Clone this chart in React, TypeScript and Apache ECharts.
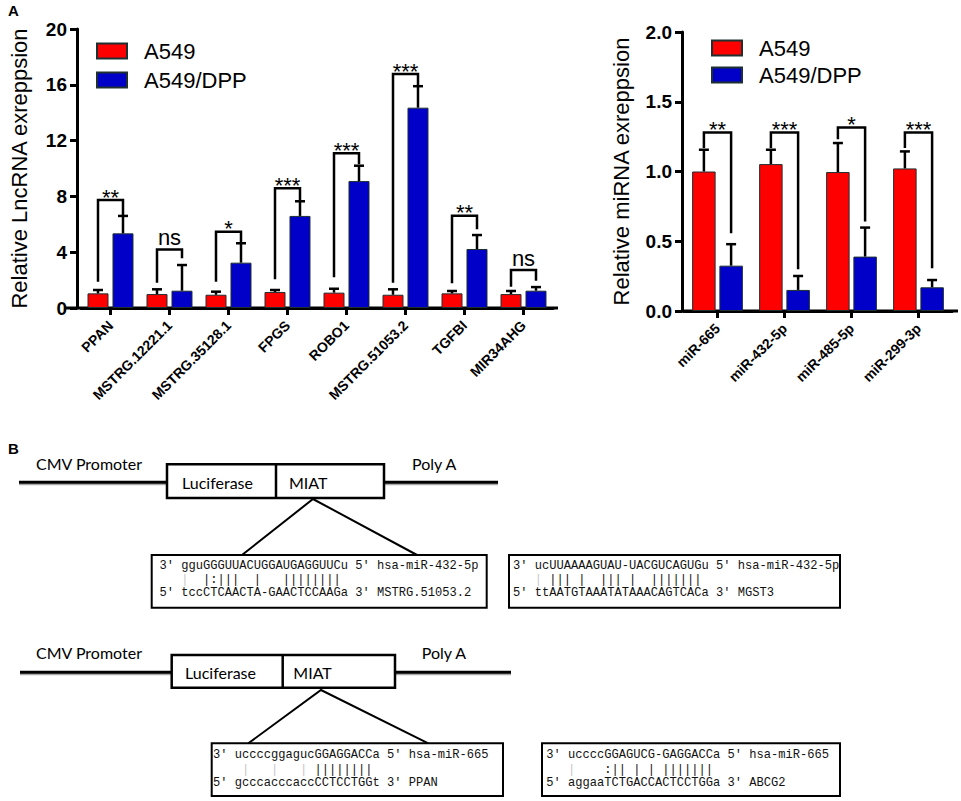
import React, { useEffect, useRef } from 'react';
import * as echarts from 'echarts';

// ---------- data ----------
const lncCategories = ['PPAN', 'MSTRG.12221.1', 'MSTRG.35128.1', 'FPGS', 'ROBO1', 'MSTRG.51053.2', 'TGFBI', 'MIR34AHG'];
const lncA549 = [1.05, 1.0, 0.95, 1.15, 1.1, 0.95, 1.05, 1.0];
const lncA549Err = [0.24, 0.34, 0.22, 0.14, 0.28, 0.39, 0.17, 0.22];
const lncDPP = [5.35, 1.24, 3.25, 6.6, 9.1, 14.36, 4.23, 1.24];
const lncDPPErr = [1.25, 1.84, 1.39, 1.05, 1.1, 1.54, 1.0, 0.26];
const lncSig = ['**', 'ns', '*', '***', '***', '***', '**', 'ns'];
const lncBracketTop = [7.74, 4.2, 5.47, 8.58, 11.09, 16.77, 6.62, 2.72];
const lncBracketLeft = [1.88, 1.81, 1.88, 2.06, 2.2, 1.81, 1.77, 1.53];
const lncBracketRight = [6.67, 3.56, 4.68, 7.74, 10.3, 15.99, 5.65, 1.96];
const lncTicks = [0, 4, 8, 12, 16, 20];

const mirCategories = ['miR-665', 'miR-432-5p', 'miR-485-5p', 'miR-299-3p'];
const mirA549 = [1.0, 1.053, 0.996, 1.022];
const mirA549Err = [0.156, 0.103, 0.208, 0.122];
const mirDPP = [0.325, 0.151, 0.39, 0.17];
const mirDPPErr = [0.154, 0.1, 0.208, 0.052];
const mirSig = ['**', '***', '*', '***'];
const mirBracketTop = [1.28, 1.28, 1.316, 1.28];
const mirBracketLeft = [1.168, 1.168, 1.232, 1.168];
const mirBracketRight = [0.558, 0.3, 0.641, 0.306];
const mirTicks = [0, 0.5, 1.0, 1.5, 2.0];

const seriesNames = ['A549', 'A549/DPP'];

// panel B texts
const seqBox1 = ["3' gguGGGUUACUGGAUGAGGUUCu 5' hsa-miR-432-5p", '   ¦  |:|||  |   ||||||||', "5' tccCTCAACTA-GAACTCCAAGa 3' MSTRG.51053.2"];
const seqBox2 = ["3' ucUUAAAAGUAU-UACGUCAGUGu 5' hsa-miR-432-5p", '   ¦ ||| |  ||| |  |||||||', "5' ttAATGTAAATATAAACAGTCACa 3' MGST3"];
const seqBox3 = ["3' uccccggagucGGAGGACCa 5' hsa-miR-665", '    ¦   ¦   ¦ ||||||||', "5' gcccacccaccCCTCCTGGt 3' PPAN"];
const seqBox4 = ["3' uccccGGAGUCG-GAGGACCa 5' hsa-miR-665", '   ¦    :|| | | |||||||', "5' aggaaTCTGACCACTCCTGGa 3' ABCG2"];

const SANS = '"Liberation Sans", Arial, Helvetica, sans-serif';
const MONO = '"Liberation Mono", "Courier New", monospace';
const CAL = 'Lato, "Open Sans", sans-serif';

const RED = '#FF0000';
const BLUE = '#0000C8';
const BORDER = '#1f3030';

function errorBars(ai: number, offset: number, vals: number[], errs: number[]) {
  return {
    type: 'custom',
    xAxisIndex: ai,
    yAxisIndex: ai,
    z: 5,
    silent: true,
    data: vals.map((v, i) => [i, v, errs[i]]),
    renderItem: (params: any, api: any) => {
      const i = api.value(0);
      const v = api.value(1);
      const e = api.value(2);
      const base = api.coord([i, v]);
      const top = api.coord([i, v + e]);
      const x = base[0] + offset;
      return {
        type: 'group',
        children: [
          { type: 'line', shape: { x1: x, y1: base[1], x2: x, y2: top[1] }, style: { stroke: '#000', lineWidth: 2.5 } },
          { type: 'line', shape: { x1: x - 5, y1: top[1], x2: x + 5, y2: top[1] }, style: { stroke: '#000', lineWidth: 2.5 } },
        ],
      };
    },
  };
}

function brackets(ai: number, offset: number, tops: number[], lefts: number[], rights: number[], sig: string[]) {
  return {
    type: 'custom',
    xAxisIndex: ai,
    yAxisIndex: ai,
    z: 6,
    silent: true,
    data: tops.map((t, i) => [i, t, lefts[i], rights[i]]),
    renderItem: (params: any, api: any) => {
      const i = api.value(0);
      const h = api.coord([i, api.value(1)]);
      const yl = api.coord([i, api.value(2)])[1];
      const yr = api.coord([i, api.value(3)])[1];
      const xl = h[0] - offset;
      const xr = h[0] + offset;
      const txt = sig[params.dataIndex];
      const isNs = txt === 'ns';
      return {
        type: 'group',
        children: [
          {
            type: 'polyline',
            shape: { points: [[xl, yl], [xl, h[1]], [xr, h[1]], [xr, yr]] },
            style: { stroke: '#000', lineWidth: 2.5, fill: 'none' },
          },
          {
            type: 'text',
            x: h[0],
            y: h[1] - (isNs ? 12 : 3),
            style: {
              text: txt,
              fontSize: 22,
              fontFamily: SANS,
              fill: '#000',
              align: 'center',
              verticalAlign: 'middle',
              textAlign: 'center',
              textVerticalAlign: 'middle',
            },
          },
        ],
      };
    },
  };
}

function txt(text: string, x: number, y: number, fontSize: number, family: string, extra: any = {}) {
  return {
    type: 'text',
    x,
    y,
    silent: true,
    style: {
      text,
      fontSize,
      fontFamily: family,
      fill: extra.fill || '#000',
      fontWeight: extra.fontWeight || 'normal',
      align: extra.align || 'left',
      verticalAlign: 'middle',
      textAlign: extra.align || 'left',
      textVerticalAlign: 'middle',
    },
  };
}

function line(x1: number, y1: number, x2: number, y2: number, w: number, color = '#000') {
  return { type: 'line', silent: true, shape: { x1, y1, x2, y2 }, style: { stroke: color, lineWidth: w } };
}

const CW = 7.25; // mono char width
const MONO_SIZE = 12.08;
function seqText(str: string, x0: number, y: number) {
  const out: any[] = [];
  let i = 0;
  while (i < str.length) {
    if (str[i] === ' ') { i++; continue; }
    const gray = str[i] === '¦';
    let j = i;
    while (j < str.length && str[j] !== ' ' && (str[j] === '¦') === gray) j++;
    const run = str.slice(i, j);
    out.push(txt(gray ? run.replace(/¦/g, '|') : run, x0 + i * CW, y, MONO_SIZE, MONO, { fill: gray ? '#c8c8c8' : '#111' }));
    i = j;
  }
  return out;
}

function seqBox(lines: string[], bx: number, by: number, bw: number, bh: number, x0: number, ys: number[]) {
  return [
    { type: 'rect', silent: true, shape: { x: bx, y: by, width: bw, height: bh }, style: { fill: '#fff', stroke: '#000', lineWidth: 2 } },
    ...seqText(lines[0], x0, ys[0]),
    ...seqText(lines[1], x0, ys[1]),
    ...seqText(lines[2], x0, ys[2]),
  ];
}

function construct(y: number, lx1: number, bx: number, bw: number, bTop: number, bh: number, div: number, rx2: number,
  cmvY: number, lucX: number, miatX: number, polyX: number) {
  return [
    line(lx1, y + 2, bx, y + 2, 2, '#aaa'),
    line(bx + bw, y + 2, rx2, y + 2, 2, '#aaa'),
    line(lx1, y, bx, y, 3),
    line(bx + bw, y, rx2, y, 3),
    { type: 'rect', silent: true, shape: { x: bx, y: bTop, width: bw, height: bh }, style: { fill: '#fff', stroke: '#000', lineWidth: 2.5 } },
    line(div, bTop, div, bTop + bh, 2.5),
    txt('CMV Promoter', 36, cmvY, 16, CAL),
    txt('Luciferase', lucX, y, 16, CAL),
    txt('MIAT', miatX, y, 16, CAL),
    txt('Poly A', polyX, cmvY, 16, CAL),
  ];
}

function buildOption() {
  const xAxisBase = (data: string[], gi: number) => ({
    type: 'category',
    gridIndex: gi,
    data,
    axisLine: { show: true, lineStyle: { color: '#000', width: 3 } },
    axisTick: { show: true, alignWithLabel: true, length: 7, lineStyle: { color: '#000', width: 3 } },
    axisLabel: {
      interval: 0,
      rotate: 45,
      margin: 15,
      padding: [17, 0, 0, 0],
      fontSize: 14,
      fontWeight: 'bold',
      fontFamily: SANS,
      color: '#000',
    },
    splitLine: { show: false },
  });
  const yAxisBase = (gi: number, max: number, interval: number, offset: number, name: string, nameGap: number, dec: boolean) => ({
    type: 'value',
    gridIndex: gi,
    min: 0,
    max,
    interval,
    offset,
    name,
    nameLocation: 'middle',
    nameGap,
    nameRotate: 90,
    nameTextStyle: { fontSize: 22, fontFamily: SANS, color: '#000' },
    axisLine: { show: true, lineStyle: { color: '#000', width: 3 } },
    axisTick: { show: true, length: 7, lineStyle: { color: '#000', width: 3 } },
    axisLabel: {
      margin: 10,
      fontSize: 19,
      fontWeight: 'bold',
      fontFamily: SANS,
      color: '#000',
      formatter: (v: number) => (dec ? v.toFixed(1) : String(v)),
    },
    splitLine: { show: false },
  });

  const barBase = (name: string, ai: number, data: number[], color: string, w: number, gap: string) => ({
    type: 'bar',
    name,
    xAxisIndex: ai,
    yAxisIndex: ai,
    data,
    barWidth: w,
    barGap: gap,
    itemStyle: { color, borderColor: BORDER, borderWidth: 1 },
    silent: true,
  });

  const legendBase = (left: number, top: number, gap: number) => ({
    data: seriesNames,
    left,
    top,
    padding: 0,
    orient: 'vertical',
    icon: 'rect',
    itemWidth: 30,
    itemHeight: 15,
    itemGap: gap,
    selectedMode: false,
    textStyle: { fontSize: 22, fontFamily: SANS, color: '#000', padding: [0, 0, 0, 12] },
  });

  return {
    animation: false,
    backgroundColor: '#fff',
    grid: [
      { left: 69, top: 29, width: 484, height: 279 },
      { left: 684, top: 32, width: 268, height: 279 },
    ],
    legend: [legendBase(96, 40, 7), legendBase(711, 37, 5)],
    xAxis: [xAxisBase(lncCategories, 0), xAxisBase(mirCategories, 1)],
    yAxis: [
      { ...yAxisBase(0, lncTicks[lncTicks.length - 1], lncTicks[1] - lncTicks[0], 4, 'Relative LncRNA exreppsion', 47, false) },
      { ...yAxisBase(1, mirTicks[mirTicks.length - 1], mirTicks[1] - mirTicks[0], 2, 'Relative miRNA exreppsion', 50, true) },
    ],
    series: [
      barBase(seriesNames[0], 0, lncA549, RED, 21, '19%'),
      barBase(seriesNames[1], 0, lncDPP, BLUE, 21, '19%'),
      barBase(seriesNames[0], 1, mirA549, RED, 23.5, '16%'),
      barBase(seriesNames[1], 1, mirDPP, BLUE, 23.5, '16%'),
      errorBars(0, -12.5, lncA549, lncA549Err),
      errorBars(0, 12.5, lncDPP, lncDPPErr),
      errorBars(1, -13.6, mirA549, mirA549Err),
      errorBars(1, 13.6, mirDPP, mirDPPErr),
      brackets(0, 12.5, lncBracketTop, lncBracketLeft, lncBracketRight, lncSig),
      brackets(1, 13.6, mirBracketTop, mirBracketLeft, mirBracketRight, mirSig),
    ],
    graphic: [
      line(65, 308, 558, 308, 3),
      line(682, 311, 958, 311, 3),
      txt('A', 8, 10, 15, SANS, { fontWeight: 'bold' }),
      txt('B', 8, 448, 15, SANS, { fontWeight: 'bold' }),
      ...construct(482.3, 19, 167, 217, 464.3, 33.7, 276, 498, 463, 182, 289, 412),
      { type: 'polyline', silent: true, shape: { points: [[242, 555], [313, 499], [417, 555]] }, style: { stroke: '#000', lineWidth: 2, fill: 'none' } },
      ...seqBox(seqBox1, 151.7, 555, 335, 52.7, 159.5, [566, 580, 593.3]),
      ...seqBox(seqBox2, 509, 555, 331, 52.7, 513, [566, 580, 593.3]),
      ...construct(672.3, 20, 171.7, 223.3, 655, 32.7, 282.7, 511, 652.7, 185, 293.3, 421.7),
      { type: 'polyline', silent: true, shape: { points: [[248.3, 743.3], [321, 690], [428.3, 743.3]] }, style: { stroke: '#000', lineWidth: 2, fill: 'none' } },
      ...seqBox(seqBox3, 211.7, 743.3, 291.3, 52.7, 213, [755, 770, 783.3]),
      ...seqBox(seqBox4, 542, 743.3, 298, 52.7, 546.3, [755, 770, 783.3]),
    ],
  };
}

export default function App() {
  const ref = useRef<HTMLDivElement>(null);
  useEffect(() => {
    if (!ref.current) return;
    const chart = echarts.init(ref.current, null, { renderer: 'svg' });
    chart.setOption(buildOption() as any);
    return () => chart.dispose();
  }, []);
  return (
    <div
      ref={ref}
      style={{ position: 'fixed', left: 0, top: 0, width: 961, height: 801, background: '#fff' }}
    />
  );
}
